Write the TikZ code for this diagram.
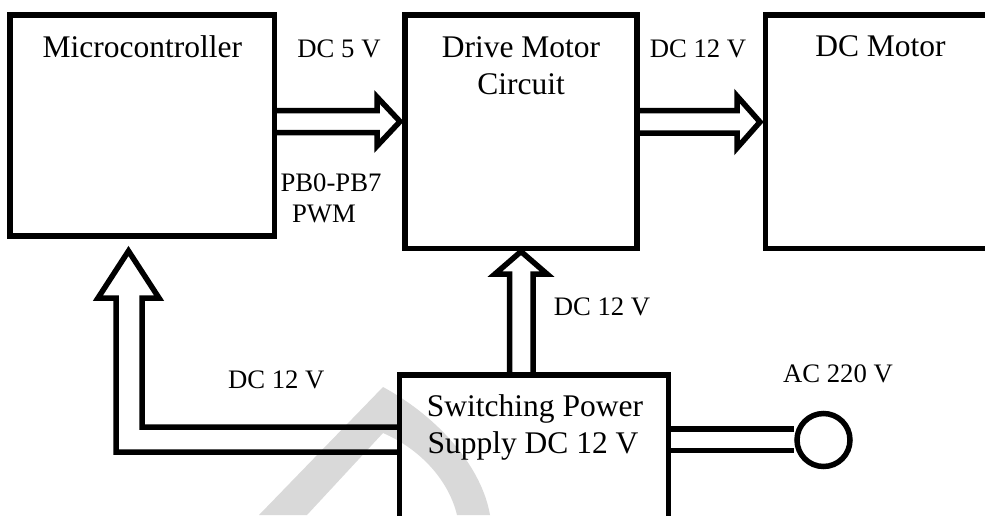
\documentclass[tikz,border=0pt]{standalone}
\usepackage{fontspec}
\setmainfont{Liberation Serif}
\begin{document}
\begin{tikzpicture}[x=1pt,y=-1pt,
  blk/.style={draw=black,line width=5.5pt,rectangle,inner sep=0pt,outer sep=0pt},
  harrow/.style={draw=black,line width=5.5pt,miter limit=10,line join=miter},
  btext/.style={anchor=base,inner sep=0pt,font=\fontsize{31.5}{36}\selectfont},
  ltext/.style={anchor=base,inner sep=0pt,font=\fontsize{26.7}{31}\selectfont}]
\useasboundingbox (0,0) rectangle (985,515);
\clip (0,0) rectangle (985,515);
% watermark
\fill[black!15] (259,515) -- (383,387) .. controls (440,418) and (482,468) .. (490,515)
  -- (457,515) .. controls (448,478) and (418,448) .. (383,433) -- (307,515) -- cycle;
% boxes
\node[blk,minimum width=264.5pt,minimum height=221pt] (mc) at (142.25,125.5) {};
\node[blk,minimum width=232pt,minimum height=233.5pt] (dm) at (521,131.75) {};
\node[blk,minimum width=244.5pt,minimum height=233.5pt] (mot) at (887.75,131.75) {};
\node[blk,minimum width=269pt,minimum height=165pt] (sps) at (534,457.5) {};
\node[draw=black,line width=5.5pt,circle,minimum size=53pt,inner sep=0pt] (ac) at (823.5,440) {};
% box texts
\node[btext] (t1) at (142.25,57) {Microcontroller};
\node[btext] (t2) at (521,57) {Drive Motor};
\node[btext] (t3) at (521,94) {Circuit};
\node[btext] (t4) at (880.5,56) {DC Motor};
\node[btext] (t5) at (535,416) {Switching Power};
\node[btext] (t6) at (533,453) {Supply DC 12 V};
% labels
\node[ltext] (l1) at (339,57) {DC 5 V};
\node[ltext] (l2) at (331,191) {PB0-PB7};
\node[ltext] (l3) at (324,222) {PWM};
\node[ltext] (l4) at (698,57) {DC 12 V};
\node[ltext] (l5) at (602,315) {DC 12 V};
\node[ltext] (l6) at (276.3,388) {DC 12 V};
\node[ltext] (l7) at (838,382) {AC 220 V};
% arrows
\draw[harrow] (mc.east |- 0,110.5) -- (377,110.5) -- (377,97) -- (400,121.5) -- (377,146) -- (377,132.5) -- (mc.east |- 0,132.5);
\draw[harrow] (dm.east |- 0,110.5) -- (737,110.5) -- (737,96) -- (760,122) -- (737,148) -- (737,133) -- (dm.east |- 0,133);
\draw[harrow] (509.5,0 |- sps.north) -- (509.5,274) -- (495,274) -- (521,251.5) -- (547,274) -- (533,274) -- (533,0 |- sps.north);
\draw[harrow] (sps.west |- 0,427) -- (142,427) -- (142,298) -- (159,298) -- (128.5,251) -- (98,298) -- (116,298) -- (116,452) -- (sps.west |- 0,452);
\draw[harrow] (sps.east |- 0,429) -- (ac.west |- 0,429);
\draw[harrow] (sps.east |- 0,450.5) -- (ac.west |- 0,450.5);
\end{tikzpicture}
\end{document}
